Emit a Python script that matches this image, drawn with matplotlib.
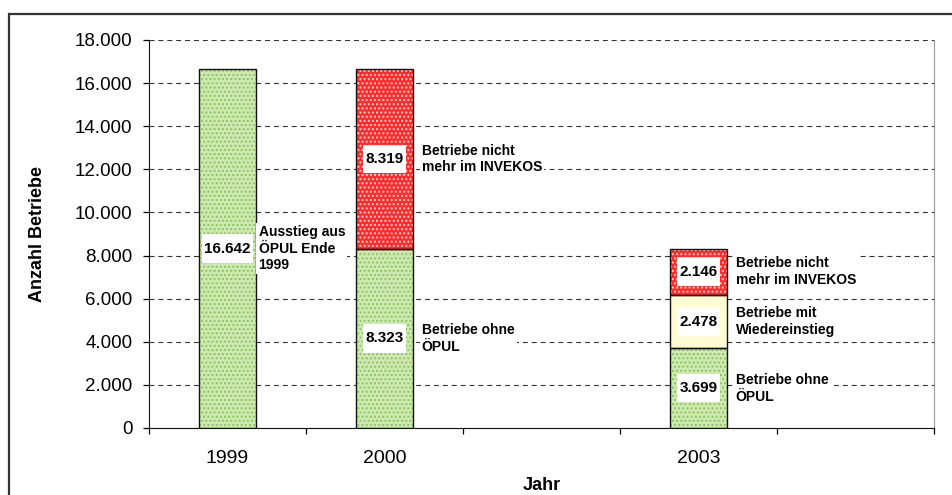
import numpy as np
import matplotlib
matplotlib.use("Agg")
import matplotlib.pyplot as plt
from matplotlib.path import Path
from matplotlib.patches import Rectangle

plt.rcParams['font.family'] = ['Liberation Sans', 'DejaVu Sans']
plt.rcParams['hatch.linewidth'] = 1.0

# ---- data ----
years = ['1999', '2000', '', '2003', '']
ohne_oepul = [16642, 8323, 0, 3699, 0]
wiedereinstieg = [0, 0, 0, 2478, 0]
nicht_invekos = [0, 8319, 0, 2146, 0]
yticks = list(range(0, 18001, 2000))

lab_ohne = ['Ausstieg aus\nÖPUL Ende\n1999', 'Betriebe ohne\nÖPUL', '', 'Betriebe ohne\nÖPUL', '']
lab_wieder = ['', '', '', 'Betriebe mit\nWiedereinstieg', '']
lab_nicht = ['', 'Betriebe nicht\nmehr im INVEKOS', '', 'Betriebe nicht\nmehr im INVEKOS', '']
side_offset = [2, 6.5, 6.5, 6.5, 6.5]

def fmt(v):
    return f"{v:,}".replace(',', '.')

def tallbox(x0, y0, width, height, mutation_size):
    px = 0.17 * mutation_size
    py = 0.48 * mutation_size
    verts = [(x0 - px, y0 - py), (x0 + width + px, y0 - py),
             (x0 + width + px, y0 + height + py), (x0 - px, y0 + height + py),
             (x0 - px, y0 - py)]
    return Path(verts, closed=True)

W, H = 952, 495
fig = plt.figure(figsize=(W / 100, H / 100), dpi=100)
ax = fig.add_axes([149 / W, (H - 428) / H, (934 - 149) / W, (428 - 40) / H])

x = np.arange(len(years))
bw = 0.36

series = [
    (ohne_oepul, '#cfe9b4', '#8cc657', '....', lab_ohne),
    (wiedereinstieg, '#fffbd2', '#fffbd2', None, lab_wieder),
    (nicht_invekos, '#ff2a2a', '#ffd0d0', '....', lab_nicht),
]

bottom = np.zeros(len(years))
for vals, fc, hc, hatch, labs in series:
    vals = np.array(vals, dtype=float)
    idx = np.where(vals > 0)[0]
    ax.bar(x[idx], vals[idx], bw, bottom=bottom[idx], color=fc, edgecolor=hc,
           hatch=hatch, linewidth=0, zorder=2)
    ax.bar(x[idx], vals[idx], bw, bottom=bottom[idx], fill=False,
           edgecolor='#111111', linewidth=1.0, zorder=3)
    for i in idx:
        ymid = bottom[i] + vals[i] / 2
        ax.text(x[i], ymid, fmt(int(vals[i])), ha='center', va='center',
                fontsize=11, fontweight='bold', zorder=5,
                bbox=dict(boxstyle=tallbox, fc='white', ec='none'))
        if labs[i]:
            ax.annotate(labs[i], xy=(x[i] + bw / 2, ymid), xytext=(side_offset[i], 0),
                        textcoords='offset points', ha='left', va='center',
                        fontsize=10, fontweight='bold', linespacing=1.25, zorder=5,
                        bbox=dict(boxstyle='square,pad=0.15', fc='white', ec='none'))
    bottom = bottom + vals

ax.set_xlim(-0.5, len(years) - 0.5)
ax.set_ylim(0, 18000)

ax.set_yticks(yticks)
ax.set_yticklabels([fmt(v) for v in yticks])
ax.tick_params(axis='y', direction='out', length=4.3, width=0.9, pad=7.5, labelsize=13.5)

ax.set_xticks(np.arange(-0.5, len(years), 1.0))
ax.set_xticklabels([])
ax.set_xticks(x, minor=True)
ax.set_xticklabels(years, minor=True)
ax.tick_params(axis='x', which='major', direction='out', length=4.3, width=0.9)
ax.tick_params(axis='x', which='minor', length=0, pad=16, labelsize=14)

ax.set_axisbelow(True)
ax.yaxis.grid(True, linestyle=(0, (4.5, 3.5)), color='#333333', linewidth=0.8)
ax.xaxis.grid(False)

ax.spines['top'].set_visible(False)
ax.spines['right'].set_color('#999999')
ax.spines['left'].set_color('#111111')
ax.spines['bottom'].set_color('#111111')

ax.set_ylabel('Anzahl Betriebe', fontsize=13, fontweight='bold')
ax.yaxis.set_label_coords(-0.131, 0.5)
ax.set_xlabel('Jahr', fontsize=13, fontweight='bold')
ax.xaxis.set_label_coords(0.5, -0.125)

# outer frame
fig.patches.append(Rectangle((9 / W, -0.1), 1.2, 1.1 - 14 / H, transform=fig.transFigure,
                             fill=False, edgecolor='#333333', linewidth=1.6))

fig.savefig('out.png', dpi=100)
